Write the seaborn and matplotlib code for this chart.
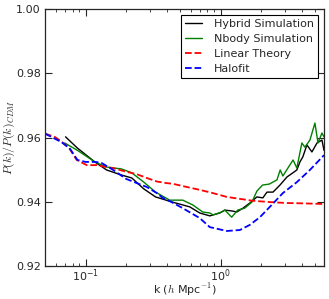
import matplotlib
matplotlib.use('Agg')
import matplotlib.pyplot as plt
import numpy as np
import pandas as pd
import seaborn as sns

# values
k_lin = [0.050, 0.059, 0.066, 0.076, 0.086, 0.102, 0.121, 0.134, 0.159, 0.179, 0.202, 0.239,
         0.284, 0.337, 0.399, 0.442, 0.562, 0.702, 0.877, 1.114, 1.391, 1.738, 2.323, 3.105,
         4.083, 5.85]
p_lin = [0.9612, 0.9602, 0.9588, 0.9565, 0.9530, 0.9514, 0.9514, 0.9510, 0.9505, 0.9499,
         0.9493, 0.9486, 0.9474, 0.9463, 0.9458, 0.9456, 0.9446, 0.9437, 0.9427, 0.9415,
         0.9409, 0.9403, 0.9399, 0.9396, 0.9395, 0.9393]

k_halo = [0.050, 0.066, 0.076, 0.087, 0.100, 0.118, 0.131, 0.156, 0.200, 0.250, 0.284,
          0.337, 0.373, 0.420, 0.525, 0.702, 0.833, 1.114, 1.391, 1.650, 1.960, 2.320,
          2.900, 3.680, 4.600, 5.85]
p_halo = [0.9612, 0.9586, 0.9567, 0.9530, 0.9524, 0.9524, 0.9521, 0.9502, 0.9471, 0.9455,
          0.9446, 0.9427, 0.9412, 0.9402, 0.9380, 0.9349, 0.9321, 0.9309, 0.9312, 0.9328,
          0.9352, 0.9384, 0.9427, 0.9461, 0.9499, 0.9545]

k_hyb = [0.071, 0.087, 0.117, 0.143, 0.185, 0.220, 0.270, 0.330, 0.440, 0.592, 0.702,
         0.833, 0.988, 1.076, 1.233, 1.320, 1.466, 1.650, 1.860, 2.060, 2.210, 2.450,
         2.760, 3.105, 3.440, 3.680, 3.880, 4.080, 4.370, 4.760, 5.190, 5.650, 5.85]
p_hyb = [0.9602, 0.9567, 0.9524, 0.9499, 0.9483, 0.9474, 0.9440, 0.9415, 0.9399, 0.9384,
         0.9365, 0.9356, 0.9365, 0.9374, 0.9371, 0.9368, 0.9380, 0.9396, 0.9415, 0.9412,
         0.9430, 0.9430, 0.9452, 0.9477, 0.9490, 0.9499, 0.9524, 0.9540, 0.9577, 0.9555,
         0.9583, 0.9592, 0.9560]

k_nb = [0.070, 0.087, 0.117, 0.143, 0.185, 0.220, 0.270, 0.330, 0.420, 0.525, 0.623,
        0.739, 0.833, 0.880, 1.020, 1.076, 1.210, 1.340, 1.510, 1.710, 1.860, 2.050,
        2.300, 2.620, 2.770, 2.900, 3.160, 3.450, 3.680, 4.010, 4.220, 4.600, 5.010,
        5.280, 5.650, 5.85]
p_nb = [0.9583, 0.9560, 0.9524, 0.9508, 0.9502, 0.9490, 0.9461, 0.9430, 0.9405, 0.9405,
        0.9390, 0.9368, 0.9365, 0.9359, 0.9368, 0.9374, 0.9352, 0.9374, 0.9380, 0.9399,
        0.9433, 0.9452, 0.9455, 0.9468, 0.9499, 0.9480, 0.9505, 0.9530, 0.9505, 0.9583,
        0.9570, 0.9592, 0.9645, 0.9583, 0.9614, 0.9602]

sns.set_style('ticks')
plt.rcParams['font.family'] = ['DejaVu Sans']
plt.rcParams['mathtext.fontset'] = 'cm'

fig = plt.figure(figsize=(3.29, 2.99), dpi=100)
ax = fig.add_axes([45 / 329, 33 / 299, 279 / 329, 257 / 299])

sns.lineplot(x=k_hyb, y=p_hyb, ax=ax, color='black', lw=1.0, label='Hybrid Simulation')
sns.lineplot(x=k_nb, y=p_nb, ax=ax, color='#008000', lw=1.0, label='Nbody Simulation')
sns.lineplot(x=k_lin, y=p_lin, ax=ax, color='red', lw=1.3, linestyle='--', label='Linear Theory')
sns.lineplot(x=k_halo, y=p_halo, ax=ax, color='blue', lw=1.3, linestyle='--', label='Halofit')

ax.set_xscale('log')
ax.set_xlim(0.05, 5.85)
ax.set_ylim(0.92, 1.00)
ax.set_yticks([0.92, 0.94, 0.96, 0.98, 1.00])
ax.set_yticklabels(['0.92', '0.94', '0.96', '0.98', '1.00'])

ax.tick_params(which='both', direction='in', top=True, right=True, labelsize=8)
ax.tick_params(axis='x', pad=1)
ax.tick_params(axis='y', pad=3)
ax.tick_params(which='major', length=5, width=0.8)
ax.tick_params(which='minor', length=2.5, width=0.6)
for s in ax.spines.values():
    s.set_linewidth(0.9)

ax.set_xlabel('k ($h$ Mpc$^{-1}$)', fontsize=8)
ax.set_ylabel('$P(k)/P(k)_{CDM}$', fontsize=8.5)
ax.xaxis.set_label_coords(0.5, -0.06)
ax.yaxis.set_label_coords(-0.102, 0.5)

leg = ax.legend(loc='upper right', fontsize=8, frameon=True, fancybox=False,
                edgecolor='black', framealpha=1, handlelength=1.5, handletextpad=1.1,
                labelspacing=0.45, borderaxespad=0.5)
leg.get_frame().set_linewidth(0.8)

fig.savefig('out.png', dpi=100)
